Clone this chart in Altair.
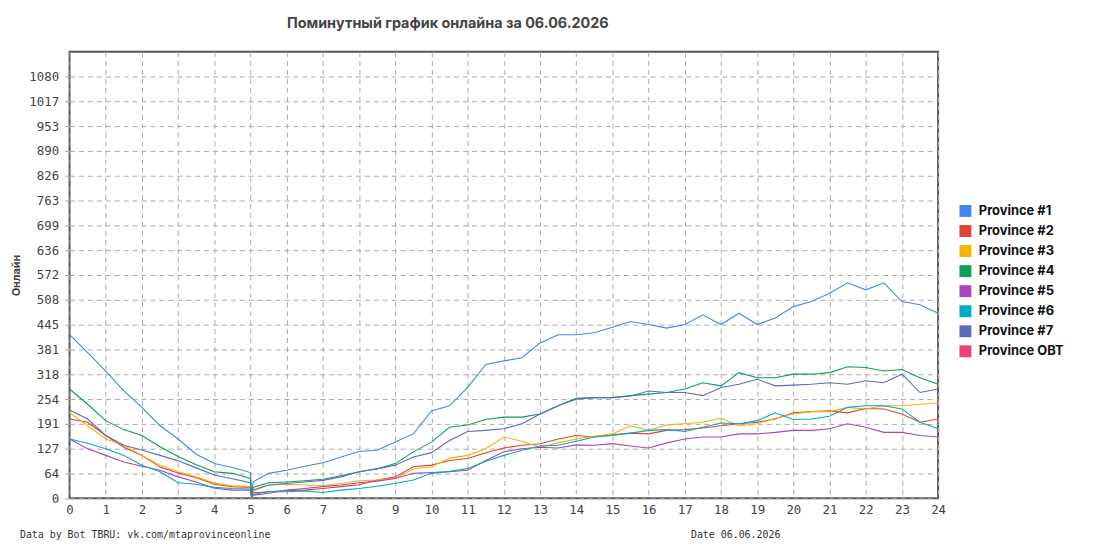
import altair as alt
import pandas as pd

TITLE = "Поминутный график онлайна за 06.06.2026"
Y_TITLE = "Онлайн"
FOOTER_LEFT = "Data by Bot TBRU: vk.com/mtaprovinceonline"
FOOTER_RIGHT = "Date 06.06.2026"

SERIES = ["Province #1", "Province #2", "Province #3", "Province #4",
          "Province #5", "Province #6", "Province #7", "Province OBT"]
COLORS = ["#4285f4", "#db4437", "#f4b400", "#0f9d58",
          "#ab47bc", "#00acc1", "#5c6bc0", "#ec407a"]

X_TICKS = list(range(25))
Y_MAX = 1144
Y_TICK_LABELS = ["0", "64", "127", "191", "254", "318", "381", "445", "508", "572",
                 "636", "699", "763", "826", "890", "953", "1017", "1080"]

HOURS = [0, 0.5, 1, 1.5, 2, 2.5, 3, 3.5, 4, 4.5, 5.0, 5.03, 5.07,
         5.5, 6, 6.5, 7, 7.5, 8, 8.5, 9, 9.5, 10, 10.5, 11, 11.5, 12,
         12.5, 13, 13.5, 14, 14.5, 15, 15.5, 16, 16.5, 17, 17.5, 18,
         18.5, 19, 19.5, 20, 20.5, 21, 21.5, 22, 22.5, 23, 23.5, 24]

P1 = [419, 373, 326, 275, 233, 186, 152, 113, 89, 79, 66, 2, 42,
      64, 72, 82, 91, 106, 120, 123, 144, 165, 224, 237, 284, 343, 352,
      360, 398, 419, 419, 424, 438, 453, 445, 436, 445, 470, 445,
      474, 445, 462, 491, 504, 525, 552, 534, 552, 504, 496, 474]
P2 = [203, 195, 161, 131, 110, 80, 65, 53, 36, 30, 28, 3, 14,
      17, 20, 21, 25, 30, 35, 47, 55, 81, 85, 97, 102, 117, 129,
      136, 140, 152, 161, 157, 163, 167, 165, 174, 176, 180, 186,
      191, 195, 203, 219, 222, 224, 219, 230, 229, 216, 195, 203]
P3 = [220, 186, 152, 136, 110, 85, 68, 55, 39, 32, 30, 3, 18,
      34, 36, 34, 33, 38, 45, 47, 51, 75, 81, 103, 110, 127, 157,
      146, 131, 142, 152, 159, 165, 186, 174, 188, 191, 195, 205,
      186, 191, 205, 216, 222, 222, 233, 229, 237, 237, 241, 244]
P4 = [280, 241, 199, 176, 161, 132, 107, 86, 68, 64, 51, 3, 28,
      40, 42, 45, 49, 58, 68, 76, 89, 119, 144, 182, 188, 202, 208,
      208, 216, 237, 256, 258, 258, 263, 267, 271, 280, 296, 288,
      322, 309, 309, 318, 318, 322, 337, 335, 326, 330, 309, 292]
P5 = [152, 127, 110, 93, 82, 72, 55, 42, 26, 21, 21, 2, 8,
      13, 21, 25, 30, 34, 40, 44, 51, 64, 66, 68, 72, 97, 119,
      127, 131, 129, 137, 136, 140, 134, 129, 142, 152, 157, 157,
      165, 165, 169, 174, 174, 178, 191, 182, 169, 169, 161, 157]
P6 = [152, 141, 127, 110, 85, 68, 40, 36, 28, 25, 24, 2, 10,
      17, 17, 19, 15, 21, 25, 31, 38, 47, 64, 69, 76, 95, 110,
      123, 134, 136, 146, 157, 161, 167, 174, 176, 171, 182, 193,
      191, 199, 219, 202, 203, 210, 233, 237, 237, 229, 195, 178]
P7 = [226, 203, 161, 136, 124, 110, 96, 78, 60, 50, 40, 3, 22,
      34, 38, 42, 46, 55, 68, 75, 85, 106, 117, 148, 171, 174, 178,
      191, 216, 237, 254, 258, 258, 262, 275, 271, 271, 263, 284,
      292, 305, 288, 290, 292, 296, 292, 301, 296, 318, 271, 280]

VALUES = [P1, P2, P3, P4, P5, P6, P7]

rows = []
for name, vals in zip(SERIES, VALUES):
    for h, v in zip(HOURS, vals):
        rows.append({"hour": h, "value": v, "series": name})
df = pd.DataFrame(rows)

# legend proxy: one hidden (clipped, out-of-domain) square per series
legend_df = pd.DataFrame({"name": SERIES, "hour": [0] * len(SERIES),
                          "value": [-1000] * len(SERIES)})

y_tick_values = [i * Y_MAX / 18 for i in range(len(Y_TICK_LABELS))]
label_expr = "[" + ",".join("'%s'" % s for s in Y_TICK_LABELS) + "][round(datum.value * 18 / %d)]" % Y_MAX

MONO = "DejaVu Sans Mono"
SANS = "Inter"

x_enc = alt.X("hour:Q",
              scale=alt.Scale(domain=[0, 24], nice=False, zero=False),
              axis=alt.Axis(values=X_TICKS, tickCount=100, format="d", title=None,
                            grid=True, gridDash=[5, 4], gridColor="#aaaaaa", gridWidth=1,
                            domain=False, ticks=False, labelFont=MONO, labelFontSize=12.5,
                            labelColor="#444444", labelPadding=5, labelFlush=False,
                            labelOverlap=False))
y_enc = alt.Y("value:Q",
              scale=alt.Scale(domain=[0, Y_MAX], nice=False, zero=True),
              axis=alt.Axis(values=y_tick_values, tickCount=100, labelExpr=label_expr,
                            title=Y_TITLE,
                            titleFont=SANS, titleFontSize=11, titleFontWeight="bold",
                            titleColor="#444444", titlePadding=7,
                            grid=True, gridDash=[5, 4], gridColor="#aaaaaa", gridWidth=1,
                            domain=False, ticks=True, tickSize=8, tickDash=[5, 4],
                            tickColor="#aaaaaa", labelFont=MONO, labelFontSize=12.5,
                            labelColor="#444444", labelPadding=3, labelFlush=False,
                            labelOverlap=False))

lines = alt.Chart(df).mark_line(strokeWidth=1.1, clip=True).encode(
    x=x_enc,
    y=y_enc,
    color=alt.Color("series:N", scale=alt.Scale(domain=SERIES, range=COLORS),
                    legend=None),
    order=alt.Order("hour:Q"),
)

legend_proxy = alt.Chart(legend_df).mark_square(filled=True, size=144, clip=True,
                                                opacity=1).encode(
    x=alt.X("hour:Q"),
    y=alt.Y("value:Q"),
    fill=alt.Fill("name:N", scale=alt.Scale(domain=SERIES, range=COLORS),
                  legend=alt.Legend(title=None, orient="none", legendX=896, legendY=154,
                                    symbolType="square", symbolSize=144,
                                    symbolStrokeWidth=0, rowPadding=6.2,
                                    labelFont=SANS, labelFontSize=13, labelFontWeight="bold",
                                    labelColor="#111111", labelOffset=7, padding=0)),
)

footer_left = alt.Chart(pd.DataFrame({"t": [FOOTER_LEFT]})).mark_text(
    align="left", baseline="middle", font=MONO, fontSize=10, color="#333333"
).encode(text="t:N", x=alt.value(-50), y=alt.value(487))

footer_right = alt.Chart(pd.DataFrame({"t": [FOOTER_RIGHT]})).mark_text(
    align="left", baseline="middle", font=MONO, fontSize=10, color="#333333"
).encode(text="t:N", x=alt.value(626), y=alt.value(487))

chart = alt.layer(lines, legend_proxy, footer_left, footer_right).properties(
    width=875, height=450,
    title=alt.TitleParams(TITLE, font=SANS, fontSize=14.5, fontWeight="bold",
                          color="#444444", anchor="start", frame="group",
                          dx=219, offset=20),
    autosize=alt.AutoSizeParams(type="none"),
    padding={"left": 62, "top": 42, "right": 150, "bottom": 40},
).resolve_scale(fill="independent", color="independent"
).configure_view(stroke="#555555", strokeWidth=2)

chart.save("out.html", embed_options={"renderer": "svg", "actions": False})
